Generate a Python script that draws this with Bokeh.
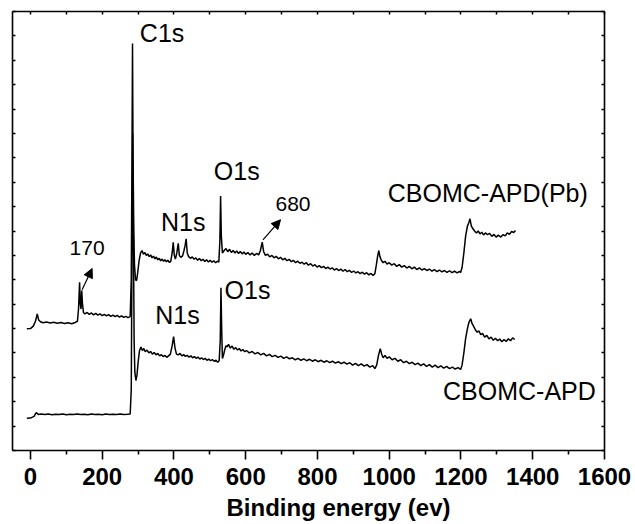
from bokeh.plotting import figure
from bokeh.models import (Range1d, LinearAxis, FixedTicker, Label, Arrow,
                          NormalHead, CustomJSTickFormatter, Title)
from bokeh.embed import file_html
from bokeh.resources import INLINE

# ---------------- data ----------------
# CBOMC-APD (lower spectrum): binding energy (eV) and intensity (a.u.)
apd_x = [-10, 0, 10, 16, 22, 30, 40, 50, 60, 70, 80, 90, 100, 110, 120, 130, 140,
         150, 160, 170, 180, 190, 200, 210, 220, 230, 240, 250, 260, 270, 278,
         281, 283, 285, 287, 289, 291, 294, 297, 300, 304, 308, 312, 316, 320,
         325, 330, 335, 340, 345, 350, 355, 360, 365, 370, 375, 380, 385, 390,
         395, 399, 403, 407, 412, 417, 422, 427, 432, 437, 442, 447, 452, 457,
         462, 467, 472, 477, 482, 487, 492, 497, 502, 507, 512, 517, 522, 526,
         529, 531, 533, 535, 538, 541, 545, 548, 552, 557, 562, 567, 572, 577,
         582, 587, 592, 597, 602, 610, 618, 626, 634, 642, 650, 658, 666, 674,
         682, 690, 698, 706, 714, 722, 730, 738, 746, 754, 762, 770, 778, 786,
         794, 802, 810, 818, 826, 834, 842, 850, 858, 866, 874, 882, 890, 898,
         906, 914, 922, 930, 938, 946, 954, 960, 965, 970, 975, 979, 983, 988,
         994, 1000, 1008, 1016, 1024, 1032, 1040, 1048, 1056, 1064, 1072, 1080,
         1088, 1096, 1104, 1112, 1120, 1128, 1136, 1144, 1152, 1160, 1168, 1176,
         1184, 1192, 1199, 1203, 1208, 1213, 1218, 1222, 1227, 1231, 1235, 1240,
         1245, 1250, 1255, 1260, 1266, 1272, 1278, 1284, 1290, 1296, 1302, 1308,
         1314, 1320, 1326, 1332, 1338, 1344, 1350]
apd_y = [1.32, 1.33, 1.40, 1.55, 1.48, 1.50, 1.48, 1.50, 1.47, 1.49, 1.48, 1.50,
         1.47, 1.49, 1.48, 1.50, 1.48, 1.49, 1.47, 1.50, 1.48, 1.49, 1.47, 1.50,
         1.48, 1.49, 1.48, 1.50, 1.48, 1.49, 1.50,
         2.5, 8.0, 13.0, 9.0, 4.5, 3.2, 2.87, 3.1, 3.6, 4.1, 4.24, 4.1, 4.18, 4.05,
         4.12, 4.0, 4.06, 3.95, 4.02, 3.92, 3.98, 3.88, 3.93, 3.85, 3.9, 3.82, 3.88,
         3.95, 4.3, 4.67, 4.2, 3.95, 3.92, 3.98, 3.88, 3.93, 3.86, 3.9, 3.83, 3.88,
         3.8, 3.85, 3.78, 3.83, 3.75, 3.8, 3.73, 3.78, 3.7, 3.75, 3.68, 3.73, 3.66,
         3.7, 3.62, 3.68, 4.5, 6.67, 5.0, 3.77, 3.9, 4.1, 4.3, 4.25, 4.35, 4.2, 4.28,
         4.15, 4.22, 4.12, 4.18, 4.08, 4.14, 4.05, 4.1, 4.0, 4.06, 3.96, 4.02, 3.92,
         3.98, 3.88, 3.94, 3.85, 3.9, 3.82, 3.87, 3.78, 3.84, 3.76, 3.8, 3.72, 3.78,
         3.7, 3.76, 3.68, 3.74, 3.66, 3.72, 3.64, 3.7, 3.62, 3.68, 3.6, 3.66, 3.58,
         3.64, 3.56, 3.62, 3.54, 3.6, 3.5, 3.57, 3.48, 3.55, 3.46, 3.52, 3.42, 3.48,
         3.36, 3.5, 3.9, 4.17, 3.95, 3.8, 3.9, 3.78, 3.84, 3.72, 3.78, 3.66, 3.72,
         3.6, 3.66, 3.56, 3.62, 3.52, 3.58, 3.48, 3.55, 3.45, 3.52, 3.42, 3.5, 3.4,
         3.47, 3.38, 3.45, 3.36, 3.42, 3.34, 3.4, 3.32, 3.5, 4.0, 4.6, 5.0, 5.25,
         5.4, 5.2, 5.1, 4.95, 4.85, 4.9, 4.75, 4.8, 4.65, 4.72, 4.58, 4.65, 4.52,
         4.6, 4.5, 4.57, 4.46, 4.55, 4.47, 4.58, 4.5, 4.62, 4.55]

# CBOMC-APD(Pb) (upper spectrum)
pb_x = [-10, 0, 8, 14, 19, 23, 28, 35, 45, 55, 65, 75, 85, 95, 105, 115, 125, 131,
        134, 137, 139, 141, 143, 145, 148, 152, 158, 164, 170, 176, 182, 188, 194,
        200, 206, 212, 218, 224, 230, 236, 242, 248, 254, 260, 266, 272, 278, 281,
        283, 284.5, 286, 288, 290, 293, 296, 299, 303, 307, 311, 315, 319, 323,
        327, 331, 335, 339, 343, 347, 351, 355, 359, 363, 367, 371, 375, 379, 383,
        387, 391, 395, 398, 401, 404, 408, 412, 415, 419, 424, 428, 431, 434, 437,
        441, 446, 451, 456, 461, 466, 471, 476, 481, 486, 491, 496, 501, 506, 511,
        516, 521, 525, 528, 530, 532, 535, 540, 545, 550, 555, 560, 565, 570, 575,
        580, 585, 590, 595, 600, 606, 612, 618, 624, 630, 636, 641, 646, 650, 655,
        661, 667, 673, 679, 685, 691, 697, 703, 709, 715, 721, 727, 733, 739, 745,
        751, 757, 763, 769, 775, 781, 787, 793, 799, 805, 811, 817, 823, 829, 835,
        841, 847, 853, 859, 865, 871, 877, 883, 889, 895, 901, 907, 913, 919, 925,
        931, 937, 943, 949, 955, 960, 964, 968, 971, 974, 978, 983, 988, 994, 1000,
        1007, 1014, 1021, 1028, 1035, 1042, 1049, 1056, 1063, 1070, 1077, 1084,
        1091, 1098, 1105, 1112, 1119, 1126, 1133, 1140, 1147, 1154, 1161, 1168,
        1175, 1182, 1189, 1196, 1199, 1203, 1208, 1213, 1218, 1222, 1225, 1229,
        1233, 1238, 1243, 1248, 1253, 1258, 1263, 1268, 1274, 1280, 1286, 1292,
        1298, 1304, 1311, 1317, 1323, 1329, 1335, 1341, 1347, 1352]
pb_y = [4.99, 5.0, 5.1, 5.3, 5.6, 5.35, 5.28, 5.24, 5.27, 5.23, 5.26, 5.22, 5.25,
        5.21, 5.24, 5.2, 5.25, 5.3, 5.8, 6.9, 6.0, 5.8, 6.56, 6.0, 5.65, 5.6, 5.66,
        5.58, 5.64, 5.56, 5.62, 5.55, 5.6, 5.53, 5.58, 5.52, 5.57, 5.5, 5.55, 5.49,
        5.54, 5.47, 5.52, 5.46, 5.5, 5.45, 5.49, 7.0, 12.0, 16.69, 12.0, 9.0, 7.6,
        7.0, 6.97, 7.3, 7.8, 8.1, 8.2, 8.05, 8.12, 8.0, 8.06, 7.95, 8.02, 7.9, 7.97,
        7.86, 7.93, 7.82, 7.88, 7.78, 7.85, 7.76, 7.82, 7.74, 7.8, 7.72, 7.75, 8.1,
        8.54, 8.0, 7.85, 8.1, 8.49, 8.0, 7.92, 7.98, 8.2, 8.4, 8.68, 8.1, 7.95, 7.88,
        7.94, 7.84, 7.9, 7.8, 7.87, 7.78, 7.84, 7.75, 7.82, 7.73, 7.8, 7.72, 7.78,
        7.7, 7.76, 7.72, 8.6, 10.43, 8.8, 8.1, 8.2, 8.28, 8.15, 8.25, 8.12, 8.2, 8.1,
        8.18, 8.08, 8.16, 8.06, 8.14, 8.04, 8.12, 8.02, 8.1, 8.0, 8.08, 8.02, 8.2,
        8.54, 8.15, 8.0, 8.05, 7.94, 8.0, 7.9, 7.96, 7.86, 7.92, 7.82, 7.88, 7.78,
        7.84, 7.74, 7.8, 7.7, 7.76, 7.68, 7.72, 7.64, 7.7, 7.6, 7.66, 7.56, 7.62,
        7.52, 7.58, 7.5, 7.55, 7.46, 7.52, 7.44, 7.49, 7.4, 7.46, 7.38, 7.44, 7.35,
        7.42, 7.33, 7.39, 7.3, 7.36, 7.28, 7.33, 7.25, 7.31, 7.23, 7.29, 7.2, 7.26,
        7.18, 7.25, 7.6, 8.0, 8.2, 7.95, 7.8, 7.7, 7.76, 7.64, 7.7, 7.6, 7.66, 7.55,
        7.62, 7.52, 7.58, 7.48, 7.55, 7.45, 7.52, 7.42, 7.49, 7.4, 7.46, 7.38, 7.44,
        7.35, 7.42, 7.33, 7.4, 7.32, 7.38, 7.3, 7.37, 7.29, 7.35, 7.28, 7.34, 7.3,
        7.5, 8.1, 8.8, 9.2, 9.35, 9.5, 9.2, 9.1, 9.0, 8.92, 9.0, 8.88, 8.95, 8.84,
        8.92, 8.85, 8.9, 8.78, 8.86, 8.75, 8.83, 8.75, 8.85, 8.8, 8.92, 8.86, 8.98,
        8.94, 9.02]

x_ticks = [0, 200, 400, 600, 800, 1000, 1200, 1400, 1600]
x_minor = [100, 300, 500, 700, 900, 1100, 1300, 1500]
y_ticks = list(range(0, 19))

FONT = "Liberation Sans"

p = figure(width=635, height=524, output_backend="svg", toolbar_location=None,
           x_range=Range1d(-50, 1600), y_range=Range1d(0, 18),
           x_axis_location=None, y_axis_location=None,
           min_border_left=12, min_border_right=31, min_border_top=11,
           min_border_bottom=74)
p.outline_line_color = None
p.grid.visible = False
p.background_fill_color = "white"
p.border_fill_color = "white"

blank = CustomJSTickFormatter(code="return '';")

# bottom axis
xb = LinearAxis(ticker=FixedTicker(ticks=x_ticks, minor_ticks=x_minor))
xb.major_tick_out = 9
xb.major_tick_in = 0
xb.minor_tick_out = 4
xb.minor_tick_in = 0
xb.axis_line_width = 1.6
xb.major_tick_line_width = 1.6
xb.minor_tick_line_width = 1.6
xb.major_label_text_font = FONT
xb.major_label_text_font_style = "bold"
xb.major_label_text_font_size = "24px"
xb.major_label_text_color = "black"
xb.major_label_standoff = 8
p.add_layout(xb, "below")

# x-axis title (below the axis, shifted right as in the original)
p.add_layout(Title(text="Binding energy (ev)", align="left", offset=214,
                   text_font=FONT, text_font_size="24px", text_font_style="bold",
                   text_color="black", standoff=8), "below")

# top axis
xt = LinearAxis(ticker=FixedTicker(ticks=x_ticks + x_minor), formatter=blank)
xt.major_tick_out = 0
xt.major_tick_in = 3
xt.minor_tick_line_color = None
xt.axis_line_width = 1.6
xt.major_tick_line_width = 1.5
xt.major_label_standoff = 0
xt.major_label_text_font_size = "0px"
p.add_layout(xt, "above")

for side in ("left", "right"):
    ya = LinearAxis(ticker=FixedTicker(ticks=y_ticks), formatter=blank)
    ya.major_tick_out = 0
    ya.major_tick_in = 3
    ya.minor_tick_line_color = None
    ya.axis_line_width = 1.6
    ya.major_tick_line_width = 1.5
    ya.major_label_standoff = 0
    ya.major_label_text_font_size = "0px"
    p.add_layout(ya, side)

p.line(apd_x, apd_y, line_color="black", line_width=1.5)
p.line(pb_x, pb_y, line_color="black", line_width=1.5)

def lab(x, y, t, size="25px"):
    p.add_layout(Label(x=x, y=y, text=t, text_font=FONT, text_font_size=size,
                       text_color="black", text_align="left",
                       text_baseline="alphabetic"))

lab(305, 17.10, "C1s")
lab(511, 11.48, "O1s")
lab(364, 9.36, "N1s")
lab(683, 10.12, "680", size="21px")
lab(109, 8.32, "170", size="21px")
lab(996, 10.55, "CBOMC-APD(Pb)")
lab(541, 6.58, "O1s")
lab(348, 5.56, "N1s")
lab(1150, 2.46, "CBOMC-APD")

for (xs, ys, xe, ye) in [(144, 6.59, 172, 7.46), (648, 8.64, 697, 9.46)]:
    p.add_layout(Arrow(end=NormalHead(size=9, fill_color="black", line_color="black",
                                      line_width=1),
                       x_start=xs, y_start=ys, x_end=xe, y_end=ye,
                       line_color="black", line_width=1.2))

open("out.html", "w").write(file_html(p, INLINE))
